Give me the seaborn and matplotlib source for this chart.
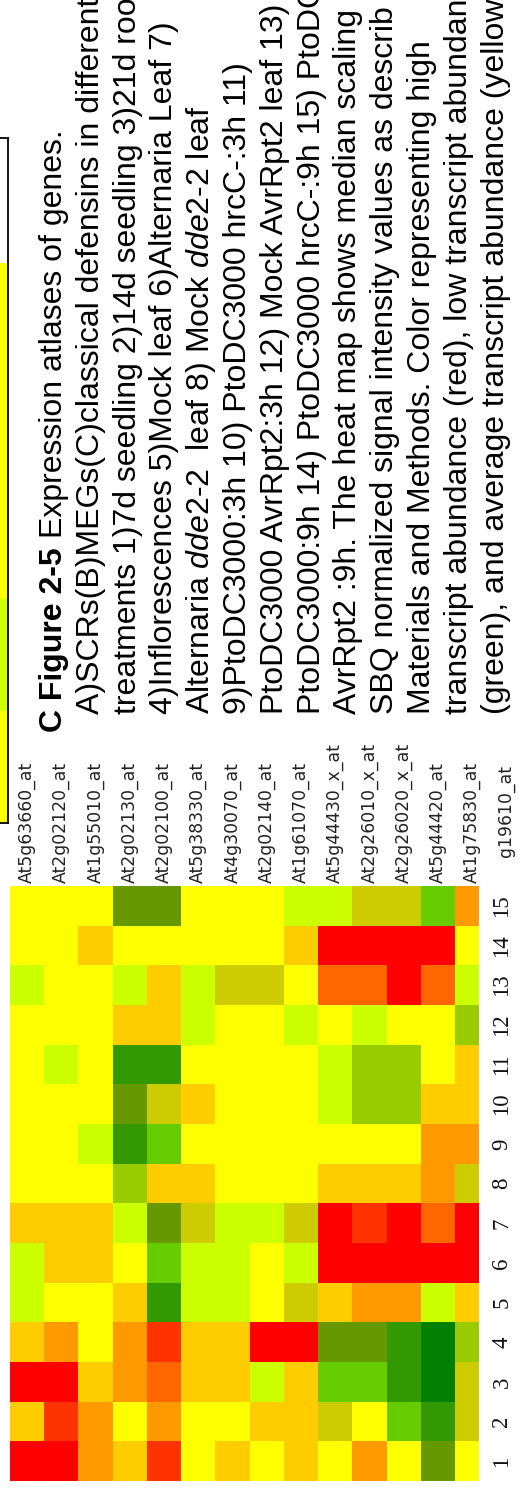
import matplotlib
matplotlib.use("Agg")
import matplotlib.pyplot as plt
from matplotlib.colors import ListedColormap
from matplotlib.lines import Line2D
import pandas as pd
import seaborn as sns

plt.rcParams["mathtext.fontset"] = "custom"
plt.rcParams["mathtext.rm"] = "Liberation Sans"
plt.rcParams["mathtext.it"] = "Liberation Sans:italic"
plt.rcParams["mathtext.bf"] = "Liberation Sans:bold"

# ---- data -------------------------------------------------------------
genes = ["At5g63660_at", "At2g02120_at", "At1g55010_at", "At2g02130_at",
         "At2g02100_at", "At5g38330_at", "At4g30070_at", "At2g02140_at",
         "At1g61070_at", "At5g44430_x_at", "At2g26010_x_at", "At2g26020_x_at",
         "At5g44420_at", "At1g75830_at", "g19610_at"]

treatments = [str(i) for i in range(1, 16)]

# discrete expression levels: -7 (lowest, green) .. 0 (average, yellow) .. 5 (highest, red)
level_colors = ["#007F00", "#339900", "#669900", "#66CC00", "#99CC00", "#CCCC00",
                "#CCFF00", "#FFFF00", "#FFCC00", "#FF9900", "#FF6600", "#FF3300",
                "#FF0000"]

t1 = [5, 5, 2, 1, 4, 0, 1, 0, 1, 0, 2, 0, -5, 0]
t2 = [1, 4, 2, 0, 2, 0, 0, 1, 1, -2, 0, -4, -6, -2]
t3 = [5, 5, 1, 2, 3, 1, 1, -1, 1, -4, -4, -6, -7, -2]
t4 = [1, 2, 0, 2, 4, 1, 1, 5, 5, -5, -5, -6, -7, -3]
t5 = [-1, 0, 0, 1, -6, -1, -1, 0, -2, 1, 2, 2, -1, 1]
t6 = [-1, 1, 1, 0, -4, -1, -1, 0, -1, 5, 5, 5, 5, 5]
t7 = [1, 1, 1, -1, -5, -2, -1, -1, -2, 5, 4, 5, 3, 5]
t8 = [0, 0, 0, -3, 1, 1, 0, 0, 0, 1, 1, 1, 2, -2]
t9 = [0, 0, -1, -6, -4, 0, 0, 0, 0, 0, 0, 0, 2, 2]
t10 = [0, 0, 0, -5, -2, 1, 0, 0, 0, -1, -3, -3, 1, 1]
t11 = [0, -1, 0, -6, -6, 0, 0, 0, 0, -1, -3, -3, 0, 1]
t12 = [0, 0, 0, 1, 1, -1, 0, 0, -1, 0, -1, 0, 0, -3]
t13 = [-1, 0, 0, -1, 1, -1, -2, -2, 0, 3, 3, 5, 3, -1]
t14 = [0, 0, 1, 0, 0, 0, 0, 0, 1, 5, 5, 5, 5, 0]
t15 = [0, 0, 0, -5, -5, 0, 0, 0, -1, -1, -2, -2, -4, 2]

# edge of the neighbouring panel (one column of levels)
strip_levels = [0, 0, 0, -1, 0]

caption_head = "C Figure 2-5"
caption_first = "Expression atlases of genes."
caption_lines = [
    "A)SCRs(B)MEGs(C)classical defensins in different",
    "treatments 1)7d seedling 2)14d seedling 3)21d roo",
    "4)Inflorescences 5)Mock leaf 6)Alternaria Leaf 7)",
    r"Alternaria $\mathit{dde2}$-2  leaf 8) Mock $\mathit{dde2}$-2 leaf",
    "9)PtoDC3000:3h 10) PtoDC3000 hrcC-:3h 11)",
    "PtoDC3000 AvrRpt2:3h 12) Mock AvrRpt2 leaf 13)",
    "PtoDC3000:9h 14) PtoDC3000 hrcC-:9h 15) PtoDC",
    "AvrRpt2 :9h. The heat map shows median scaling",
    "SBQ normalized signal intensity values as describ",
    "Materials and Methods. Color representing high",
    "transcript abundance (red), low transcript abundan",
    "(green), and average transcript abundance (yellow",
]

# ---- figure -------------------------------------------------------------
W, H = 522, 1489
fig = plt.figure(figsize=(W / 100, H / 100), dpi=100)
fig.patch.set_facecolor("white")


def fpos(x, y_top):
    return x / W, 1 - y_top / H


cmap = ListedColormap(level_colors)
rows = [t1, t2, t3, t4, t5, t6, t7, t8, t9, t10, t11, t12, t13, t14, t15]
df = pd.DataFrame(rows, index=treatments, columns=genes[:len(t1)]).iloc[::-1]

ax = fig.add_axes([10 / W, 1 - 1481 / H, 469 / W, 595 / H])
sns.heatmap(df, cmap=cmap, vmin=-7.5, vmax=5.5, cbar=False, ax=ax,
            xticklabels=False, yticklabels=False, linewidths=0)
ax.set_xlim(0, 13.7)
ax.set_ylim(len(df), 0)
ax.tick_params(length=0)
ax.set_xlabel("")
ax.set_ylabel("")

# gene labels above the columns
for j, g in enumerate(genes):
    off = -0.08 if j < len(t1) else -0.72
    ax.text(j + 0.5, off, g, rotation=90, rotation_mode="anchor", ha="left",
            va="center", fontsize=12.4, family="DejaVu Sans", color="#222222",
            clip_on=False)

# treatment numbers at the right
for i, t in enumerate(df.index):
    ax.text(14.37, i + 0.5, t, rotation=90, ha="center", va="center",
            fontsize=16.5, family="Liberation Serif", color="#111111",
            clip_on=False)

# neighbouring panel edge
sax = fig.add_axes([0, 1 - 823 / H, 6.5 / W, 560 / H])
sns.heatmap(pd.DataFrame({"v": strip_levels}), cmap=cmap, vmin=-7.5, vmax=5.5,
            cbar=False, ax=sax, xticklabels=False, yticklabels=False)
sax.tick_params(length=0)
sax.set_xlabel("")
sax.set_ylabel("")
for xs, ys in [([0, 7.5], [138, 138]), ([7.5, 7.5], [138, 823]), ([0, 7.5], [823, 823])]:
    fig.add_artist(Line2D([x / W for x in xs], [1 - y / H for y in ys],
                          transform=fig.transFigure, color="black", lw=1.3))

# caption, rotated
fs = 23
spacing = 36.8
base0 = 62
x0, y0 = fpos(base0, 732)
head = fig.text(x0, y0, caption_head, rotation=90, rotation_mode="anchor",
                ha="left", va="baseline", fontsize=fs, fontweight="bold",
                family="Liberation Sans", color="black")
renderer = fig.canvas.get_renderer()
bb = head.get_window_extent(renderer=renderer)
space_px = 0.278 * fs * 100 / 72
fig.text(x0, (bb.y1 + space_px) / H, caption_first, rotation=90,
         rotation_mode="anchor", ha="left", va="baseline", fontsize=fs,
         family="Liberation Sans", color="black")

for i, line in enumerate(caption_lines, start=1):
    x, y = fpos(base0 + spacing * i, 714)
    fig.text(x, y, line, rotation=90, rotation_mode="anchor", ha="left",
             va="baseline", fontsize=fs, family="Liberation Sans", color="black")

fig.savefig("out.png", dpi=100, facecolor="white")
